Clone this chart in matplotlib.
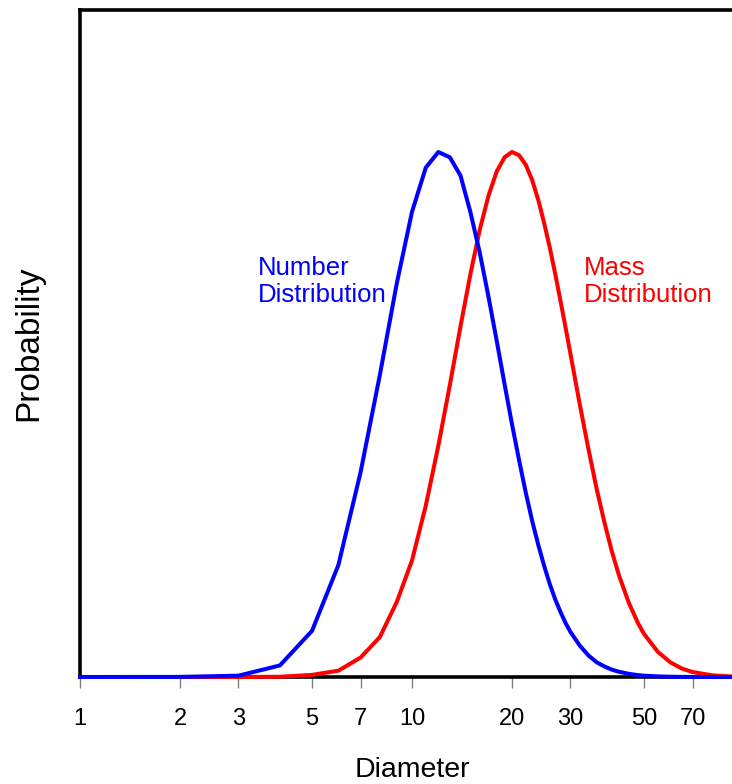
import matplotlib.pyplot as plt

# diameters sampled along the curves
diam = [1, 2, 3, 4, 5, 6, 7, 8, 9, 10, 11, 12, 13, 14, 15, 16, 17, 18, 19, 20,
        21, 22, 23, 24, 25, 26, 27, 28, 29, 30, 32, 34, 36, 38, 40, 42, 45, 48,
        50, 55, 60, 65, 70, 80, 90, 100]

number_dist = [0, 0.0002, 0.0025, 0.022, 0.088, 0.213, 0.39, 0.575, 0.75, 0.886,
               0.97, 1.0, 0.99, 0.955, 0.885, 0.808, 0.724, 0.64, 0.558, 0.482,
               0.414, 0.352, 0.298, 0.252, 0.212, 0.177, 0.148, 0.124, 0.103, 0.086,
               0.060, 0.041, 0.028, 0.020, 0.014, 0.010, 0.006, 0.0035, 0.0025, 0.0011,
               0.0005, 0.0002, 0.0001, 0, 0, 0]

mass_dist = [0, 0, 0.0001, 0.0004, 0.004, 0.012, 0.037, 0.076, 0.143, 0.222,
             0.326, 0.44, 0.556, 0.668, 0.768, 0.852, 0.917, 0.963, 0.99, 1.0,
             0.994, 0.976, 0.947, 0.909, 0.865, 0.818, 0.768, 0.717, 0.666, 0.616,
             0.52, 0.434, 0.358, 0.294, 0.239, 0.194, 0.141, 0.102, 0.082, 0.048,
             0.028, 0.016, 0.0095, 0.0033, 0.0012, 0.0004]

xticks = [1, 2, 3, 5, 7, 10, 20, 30, 50, 70]

plt.rcParams['font.family'] = ['Liberation Sans', 'DejaVu Sans']

fig = plt.figure(figsize=(7.32, 7.84), dpi=100)
W, H = 732, 784
ax = fig.add_axes([80 / W, 1 - 677 / H, 664 / W, 667 / H])

ax.plot(diam[1:], mass_dist[1:], color='#ff0000', lw=2.9, clip_on=False, zorder=3)
ax.plot(diam, number_dist, color='#0000ff', lw=2.9, clip_on=False, zorder=4)

ax.set_xscale('log')
ax.set_xlim(1, 100)
ax.set_ylim(0, 1.2705)
ax.set_xticks(xticks)
ax.set_xticklabels([str(t) for t in xticks], fontsize=17)
ax.minorticks_off()
ax.set_yticks([])
ax.tick_params(axis='x', length=8, width=1, color='#808080', pad=14)

for s in ['left', 'top', 'bottom']:
    ax.spines[s].set_linewidth(2.6)
ax.spines['right'].set_visible(False)

ax.set_xlabel('Diameter', fontsize=20.5, labelpad=20)
ax.set_ylabel('Probability', fontsize=24, labelpad=26)

# labels, two lines each
ax.text(3.44, 0.766, 'Number', color='#0000ff', fontsize=18.5, va='baseline')
ax.text(3.44, 0.714, 'Distribution', color='#0000ff', fontsize=18.5, va='baseline')
ax.text(33.0, 0.766, 'Mass', color='#ff0000', fontsize=18.5, va='baseline')
ax.text(33.0, 0.714, 'Distribution', color='#ff0000', fontsize=18.5, va='baseline')

fig.savefig('out.png', dpi=100)
